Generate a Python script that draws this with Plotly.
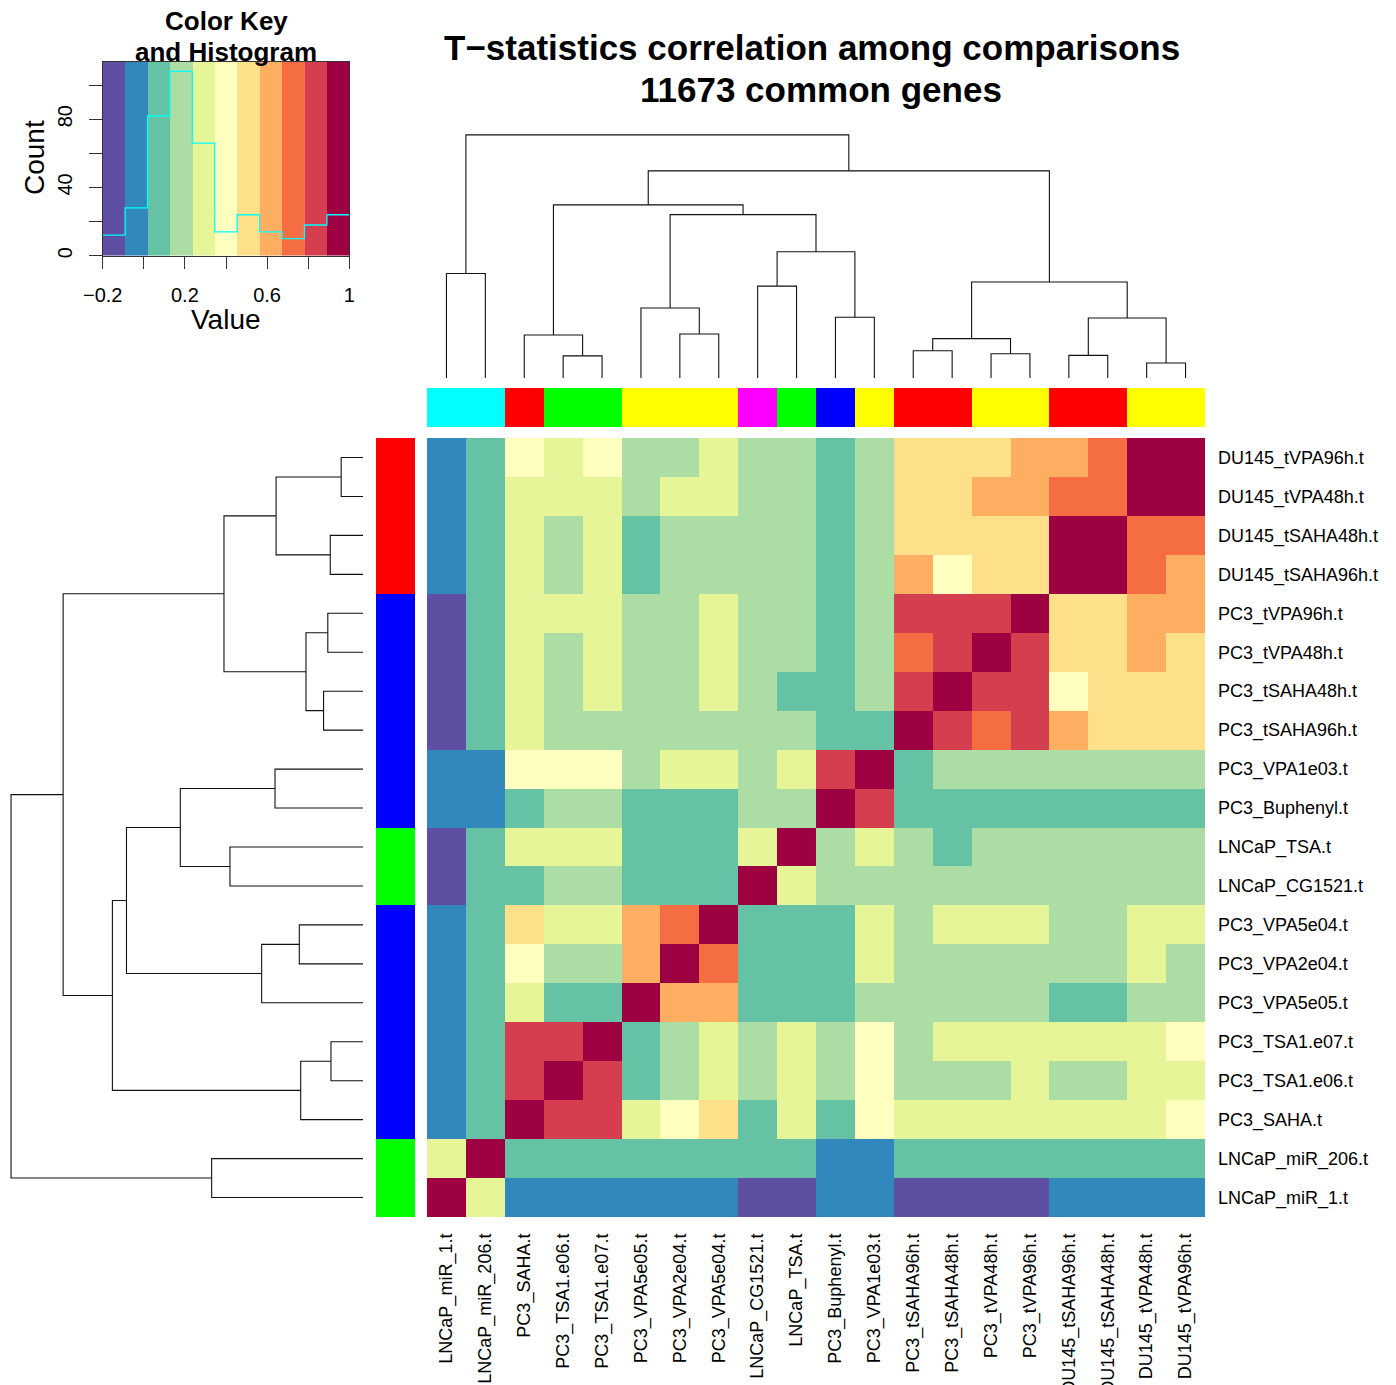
import numpy as np
import plotly.graph_objects as go

# ---------------- data ----------------
col_labels = ["LNCaP_miR_1.t", "LNCaP_miR_206.t", "PC3_SAHA.t", "PC3_TSA1.e06.t", "PC3_TSA1.e07.t",
              "PC3_VPA5e05.t", "PC3_VPA2e04.t", "PC3_VPA5e04.t", "LNCaP_CG1521.t", "LNCaP_TSA.t",
              "PC3_Buphenyl.t", "PC3_VPA1e03.t", "PC3_tSAHA96h.t", "PC3_tSAHA48h.t", "PC3_tVPA48h.t",
              "PC3_tVPA96h.t", "DU145_tSAHA96h.t", "DU145_tSAHA48h.t", "DU145_tVPA48h.t", "DU145_tVPA96h.t"]
row_labels = col_labels[::-1]

# correlation values, rows top->bottom (row_labels), columns left->right (col_labels)
corr = [
    [-0.04, 0.07, 0.40, 0.29, 0.40, 0.18, 0.18, 0.29, 0.18, 0.18, 0.07, 0.18, 0.51, 0.51, 0.51, 0.62, 0.62, 0.73, 0.95, 1.00],
    [-0.04, 0.07, 0.29, 0.29, 0.29, 0.18, 0.29, 0.29, 0.18, 0.18, 0.07, 0.18, 0.51, 0.51, 0.62, 0.62, 0.73, 0.73, 1.00, 0.95],
    [-0.04, 0.07, 0.29, 0.18, 0.29, 0.07, 0.18, 0.18, 0.18, 0.18, 0.07, 0.18, 0.51, 0.51, 0.51, 0.51, 0.95, 1.00, 0.73, 0.73],
    [-0.04, 0.07, 0.29, 0.18, 0.29, 0.07, 0.18, 0.18, 0.18, 0.18, 0.07, 0.18, 0.62, 0.40, 0.51, 0.51, 1.00, 0.95, 0.73, 0.62],
    [-0.15, 0.07, 0.29, 0.29, 0.29, 0.18, 0.18, 0.29, 0.18, 0.18, 0.07, 0.18, 0.84, 0.84, 0.84, 1.00, 0.51, 0.51, 0.62, 0.62],
    [-0.15, 0.07, 0.29, 0.18, 0.29, 0.18, 0.18, 0.29, 0.18, 0.18, 0.07, 0.18, 0.73, 0.84, 1.00, 0.84, 0.51, 0.51, 0.62, 0.51],
    [-0.15, 0.07, 0.29, 0.18, 0.29, 0.18, 0.18, 0.29, 0.18, 0.07, 0.07, 0.18, 0.84, 1.00, 0.84, 0.84, 0.40, 0.51, 0.51, 0.51],
    [-0.15, 0.07, 0.29, 0.18, 0.18, 0.18, 0.18, 0.18, 0.18, 0.18, 0.07, 0.07, 1.00, 0.84, 0.73, 0.84, 0.62, 0.51, 0.51, 0.51],
    [-0.04, -0.04, 0.40, 0.40, 0.40, 0.18, 0.29, 0.29, 0.18, 0.29, 0.84, 1.00, 0.07, 0.18, 0.18, 0.18, 0.18, 0.18, 0.18, 0.18],
    [-0.04, -0.04, 0.07, 0.18, 0.18, 0.07, 0.07, 0.07, 0.18, 0.18, 1.00, 0.84, 0.07, 0.07, 0.07, 0.07, 0.07, 0.07, 0.07, 0.07],
    [-0.15, 0.07, 0.29, 0.29, 0.29, 0.07, 0.07, 0.07, 0.29, 1.00, 0.18, 0.29, 0.18, 0.07, 0.18, 0.18, 0.18, 0.18, 0.18, 0.18],
    [-0.15, 0.07, 0.07, 0.18, 0.18, 0.07, 0.07, 0.07, 1.00, 0.29, 0.18, 0.18, 0.18, 0.18, 0.18, 0.18, 0.18, 0.18, 0.18, 0.18],
    [-0.04, 0.07, 0.51, 0.29, 0.29, 0.62, 0.73, 1.00, 0.07, 0.07, 0.07, 0.29, 0.18, 0.29, 0.29, 0.29, 0.18, 0.18, 0.29, 0.29],
    [-0.04, 0.07, 0.40, 0.18, 0.18, 0.62, 1.00, 0.73, 0.07, 0.07, 0.07, 0.29, 0.18, 0.18, 0.18, 0.18, 0.18, 0.18, 0.29, 0.18],
    [-0.04, 0.07, 0.29, 0.07, 0.07, 1.00, 0.62, 0.62, 0.07, 0.07, 0.07, 0.18, 0.18, 0.18, 0.18, 0.18, 0.07, 0.07, 0.18, 0.18],
    [-0.04, 0.07, 0.84, 0.84, 1.00, 0.07, 0.18, 0.29, 0.18, 0.29, 0.18, 0.40, 0.18, 0.29, 0.29, 0.29, 0.29, 0.29, 0.29, 0.40],
    [-0.04, 0.07, 0.84, 1.00, 0.84, 0.07, 0.18, 0.29, 0.18, 0.29, 0.18, 0.40, 0.18, 0.18, 0.18, 0.29, 0.18, 0.18, 0.29, 0.29],
    [-0.04, 0.07, 1.00, 0.84, 0.84, 0.29, 0.40, 0.51, 0.07, 0.29, 0.07, 0.40, 0.29, 0.29, 0.29, 0.29, 0.29, 0.29, 0.29, 0.40],
    [0.29, 1.00, 0.07, 0.07, 0.07, 0.07, 0.07, 0.07, 0.07, 0.07, -0.04, -0.04, 0.07, 0.07, 0.07, 0.07, 0.07, 0.07, 0.07, 0.07],
    [1.00, 0.29, -0.04, -0.04, -0.04, -0.04, -0.04, -0.04, -0.15, -0.15, -0.04, -0.04, -0.15, -0.15, -0.15, -0.15, -0.04, -0.04, -0.04, -0.04],
]

col_side = ["cyan", "cyan", "red", "green", "green", "yellow", "yellow", "yellow", "magenta", "green",
            "blue", "yellow", "red", "red", "yellow", "yellow", "red", "red", "yellow", "yellow"]
row_side = ["red"] * 4 + ["blue"] * 6 + ["green"] * 2 + ["blue"] * 6 + ["green"] * 2

# hierarchical clustering (leaf ids 0..19 = column order; id 20+k = k-th merge), heights relative to root
merges = [
    (18, 19, 0.062), (3, 4, 0.091), (16, 17, 0.093), (14, 15, 0.100), (12, 13, 0.112),
    (24, 23, 0.162), (2, 21, 0.177), (6, 7, 0.181), (22, 20, 0.247), (10, 11, 0.250),
    (5, 27, 0.288), (8, 9, 0.378), (25, 28, 0.395), (0, 1, 0.430), (31, 29, 0.519),
    (30, 34, 0.672), (26, 35, 0.712), (36, 32, 0.852), (33, 37, 1.000),
]

breaks_lo, breaks_hi, n_bins = -0.2, 1.0, 11
spectral = ["#5E4FA2", "#3288BD", "#66C2A5", "#ABDDA4", "#E6F598", "#FFFFBF",
            "#FEE08B", "#FDAE61", "#F46D43", "#D53E4F", "#9E0142"]

title_lines = ["T\u2212statistics correlation among comparisons", "11673 common genes"]

# ---------------- layout helpers ----------------
W, H = 1396, 1385
FONT = "Liberation Sans, Arial, Helvetica, sans-serif"


def dx(a, b):
    return [a / W, b / W]


def dy(top, bottom):
    return [1 - bottom / H, 1 - top / H]


def discrete_scale(colors):
    n = len(colors)
    cs = []
    for k, c in enumerate(colors):
        cs.append([k / n, c])
        cs.append([(k + 1) / n, c])
    return cs


def dendro(merges, n, leaf_pos):
    pos = list(leaf_pos)
    hgt = [0.0] * n
    p, h = [], []
    for a, b, ht in merges:
        pa, pb = pos[a], pos[b]
        p += [pa, pa, pb, pb, None]
        h += [hgt[a], ht, ht, hgt[b], None]
        pos.append((pa + pb) / 2)
        hgt.append(ht)
    return p, h


n = len(col_labels)
Z = np.array(corr)
edges = np.linspace(breaks_lo, breaks_hi, n_bins + 1)
counts, _ = np.histogram(Z.ravel(), bins=edges)
centers = (edges[:-1] + edges[1:]) / 2
cscale = discrete_scale(spectral)

side_palette = {"red": "#FF0000", "green": "#00FF00", "blue": "#0000FF",
                "cyan": "#00FFFF", "magenta": "#FF00FF", "yellow": "#FFFF00"}
side_names = list(side_palette.keys())
side_scale = discrete_scale([side_palette[k] for k in side_names])

fig = go.Figure()

# main heatmap
fig.add_trace(go.Heatmap(z=Z, x=list(range(n)), y=list(range(n)), zmin=breaks_lo, zmax=breaks_hi,
                         colorscale=cscale, showscale=False, xaxis="x", yaxis="y", hoverinfo="skip"))
# column side colours
fig.add_trace(go.Heatmap(z=[[side_names.index(c) for c in col_side]], x=list(range(n)), y=[0],
                         zmin=-0.5, zmax=len(side_names) - 0.5, colorscale=side_scale, showscale=False,
                         xaxis="x2", yaxis="y2", hoverinfo="skip"))
# row side colours
fig.add_trace(go.Heatmap(z=[[side_names.index(c)] for c in row_side], x=[0], y=list(range(n)),
                         zmin=-0.5, zmax=len(side_names) - 0.5, colorscale=side_scale, showscale=False,
                         xaxis="x3", yaxis="y3", hoverinfo="skip"))
# column dendrogram
cp, chh = dendro(merges, n, list(range(n)))
fig.add_trace(go.Scatter(x=cp, y=chh, mode="lines", line=dict(color="#111111", width=1.1),
                         xaxis="x4", yaxis="y4", hoverinfo="skip", showlegend=False))
# row dendrogram (rows are the reverse of the column order)
rp, rh = dendro(merges, n, [n - 1 - i for i in range(n)])
fig.add_trace(go.Scatter(x=rh, y=rp, mode="lines", line=dict(color="#111111", width=1.1),
                         xaxis="x5", yaxis="y5", hoverinfo="skip", showlegend=False))
# colour key bands
ymax = counts.max() / 0.95
fig.add_trace(go.Heatmap(z=[list(centers)], x=list(edges), y=[0, ymax], zmin=breaks_lo, zmax=breaks_hi,
                         colorscale=cscale, showscale=False, xaxis="x6", yaxis="y6", hoverinfo="skip"))
# histogram step line
fig.add_trace(go.Scatter(x=list(edges), y=list(counts) + [counts[-1]], mode="lines",
                         line=dict(color="#00FFFF", width=1.3, shape="hv"),
                         xaxis="x6", yaxis="y6", hoverinfo="skip", showlegend=False))

hidden = dict(showgrid=False, zeroline=False, showticklabels=False, ticks="", showline=False,
              automargin=False)
lab_font = dict(family=FONT, size=18, color="#000000")

fig.update_layout(
    width=W, height=H, margin=dict(l=0, r=0, t=0, b=0, autoexpand=False),
    paper_bgcolor="white", plot_bgcolor="white", showlegend=False,
    font=dict(family=FONT, color="#000000"),
    xaxis=dict(domain=dx(427, 1205), range=[-0.5, n - 0.5], anchor="y", showgrid=False, zeroline=False,
               tickmode="array", tickvals=list(range(n)), ticktext=col_labels, tickangle=-90,
               ticks="", ticklabelstandoff=12, tickfont=lab_font, automargin=False),
    yaxis=dict(domain=dy(438, 1217), range=[n - 0.5, -0.5], anchor="x", side="right", showgrid=False,
               zeroline=False, tickmode="array", tickvals=list(range(n)), ticktext=row_labels,
               ticks="", ticklabelstandoff=12, tickfont=lab_font, automargin=False),
    xaxis2=dict(domain=dx(427, 1205), range=[-0.5, n - 0.5], anchor="y2", **hidden),
    yaxis2=dict(domain=dy(388, 427), range=[-0.5, 0.5], anchor="x2", **hidden),
    xaxis3=dict(domain=dx(376, 415), range=[-0.5, 0.5], anchor="y3", **hidden),
    yaxis3=dict(domain=dy(438, 1217), range=[n - 0.5, -0.5], anchor="x3", **hidden),
    xaxis4=dict(domain=dx(427, 1205), range=[-0.5, n - 0.5], anchor="y4", **hidden),
    yaxis4=dict(domain=dy(130, 378), range=[0, 1.02], anchor="x4", **hidden),
    xaxis5=dict(domain=dx(4, 363), range=[1.02, 0], anchor="y5", **hidden),
    yaxis5=dict(domain=dy(438, 1217), range=[n - 0.5, -0.5], anchor="x5", **hidden),
    xaxis6=dict(domain=dx(102.7, 349.3), range=[breaks_lo, breaks_hi], anchor="y6", showgrid=False,
                zeroline=False, showline=True, mirror=True, linecolor="#333333", linewidth=1,
                tickmode="array", tickvals=[-0.2, 0, 0.2, 0.4, 0.6, 0.8, 1.0],
                ticktext=["\u22120.2", "", "0.2", "", "0.6", "", "1"], ticks="outside", ticklen=12,
                tickcolor="#333333", tickfont=dict(family=FONT, size=20, color="#000000"),
                ticklabelstandoff=9, automargin=False),
    yaxis6=dict(domain=dy(61.7, 255.7), range=[0, ymax], anchor="x6", showgrid=False, zeroline=False,
                showline=True, mirror=True, linecolor="#333333", linewidth=1,
                tickmode="array", tickvals=[0, 20, 40, 60, 80, 100], ticktext=["0", "", "40", "", "80", ""],
                ticks="outside", ticklen=13, tickcolor="#333333", tickangle=-90,
                tickfont=dict(family=FONT, size=20, color="#000000"), ticklabelstandoff=9,
                automargin=False),
)

ann = []
ann.append(dict(text="<b>%s</b>" % title_lines[0], x=812 / W, y=1 - 47 / H, xref="paper", yref="paper",
                showarrow=False, xanchor="center", yanchor="middle", font=dict(family=FONT, size=35)))
ann.append(dict(text="<b>%s</b>" % title_lines[1], x=821 / W, y=1 - 89 / H, xref="paper", yref="paper",
                showarrow=False, xanchor="center", yanchor="middle", font=dict(family=FONT, size=35)))
ann.append(dict(text="<b>Color Key</b>", x=226 / W, y=1 - 21 / H, xref="paper", yref="paper",
                showarrow=False, xanchor="center", yanchor="middle", font=dict(family=FONT, size=26)))
ann.append(dict(text="<b>and Histogram</b>", x=226 / W, y=1 - 52 / H, xref="paper", yref="paper",
                showarrow=False, xanchor="center", yanchor="middle", font=dict(family=FONT, size=26)))
ann.append(dict(text="Count", x=35 / W, y=1 - 158 / H, xref="paper", yref="paper", textangle=-90,
                showarrow=False, xanchor="center", yanchor="middle", font=dict(family=FONT, size=28)))
ann.append(dict(text="Value", x=226 / W, y=1 - 320 / H, xref="paper", yref="paper",
                showarrow=False, xanchor="center", yanchor="middle", font=dict(family=FONT, size=28)))
fig.update_layout(annotations=ann)

fig.write_html("out.html", config={"displayModeBar": False})
